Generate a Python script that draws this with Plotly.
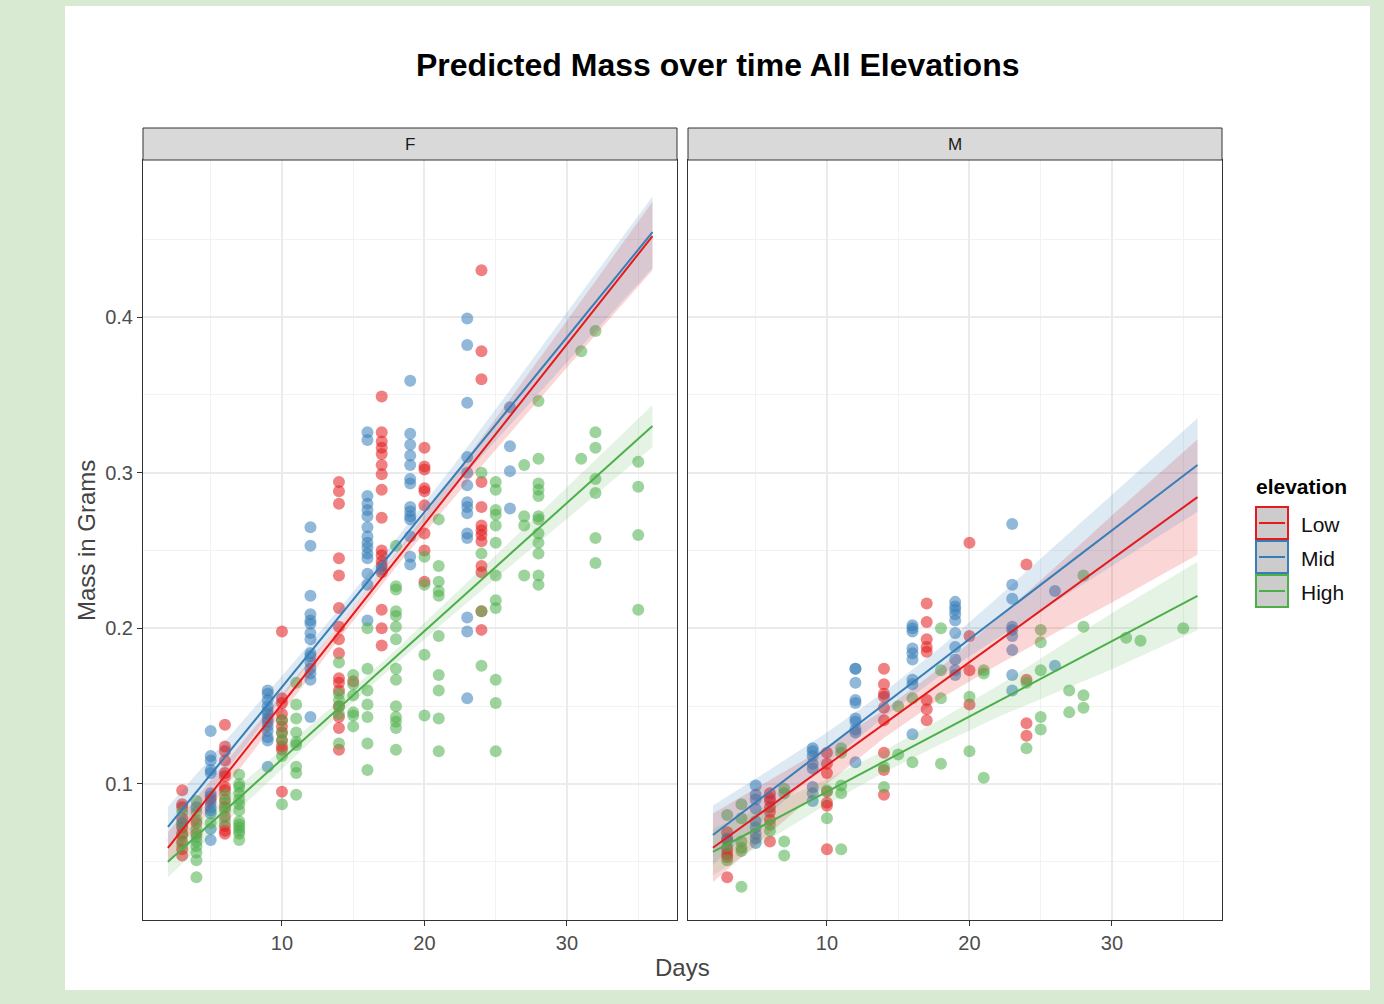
import plotly.graph_objects as go

# ---------------- data ----------------
# Facet F
F_low_days = [3,3,3,3,3,3,3,3,3, 4,4, 5,
              6,6,6,6,6,6,6,6,6,6,6,6,6,6,
              10,10,10,10,10,10,10,10,10,10,10,
              14,14,14,14,14,14,14,14,14,14,14,14,14,14,14,14,
              15,
              17,17,17,17,17,17,17,17,17,17,17,17,17,17,17,17,17,
              20,20,20,20,20,20,20,20,20,
              24,24,24,24,24,24,24,24,24,24,24,24,24]
F_low_mass = [0.096,0.087,0.085,0.078,0.072,0.068,0.063,0.058,0.054, 0.075,0.068, 0.090,
              0.138,0.124,0.121,0.115,0.107,0.105,0.098,0.096,0.090,0.085,0.079,0.073,0.070,0.068,
              0.198,0.155,0.152,0.145,0.141,0.137,0.133,0.128,0.124,0.122,0.095,
              0.294,0.288,0.280,0.245,0.234,0.213,0.201,0.193,0.184,0.168,0.165,0.160,0.150,0.143,0.136,0.122,
              0.166,
              0.349,0.326,0.320,0.316,0.312,0.305,0.299,0.289,0.271,0.250,0.247,0.243,0.240,0.236,0.212,0.200,0.189,
              0.316,0.304,0.302,0.290,0.288,0.279,0.261,0.250,0.230,
              0.430,0.378,0.360,0.294,0.278,0.266,0.263,0.260,0.256,0.240,0.236,0.211,0.199]

F_mid_days = [3, 4,
              5,5,5,5,5,5,5,5,5,5,5,5,5,
              9,9,9,9,9,9,9,9,9,9,9,9,9,
              12,12,12,12,12,12,12,12,12,12,12,12,12,12,12,
              16,16,16,16,16,16,16,16,16,16,16,16,16,16,16,
              17,
              19,19,19,19,19,19,19,19,19,19,19,19,19,19,
              23,23,23,23,23,23,23,23,23,23,23,23,23,23,
              26,26,26,26]
F_mid_mass = [0.075, 0.085,
              0.134,0.118,0.115,0.109,0.107,0.094,0.092,0.088,0.085,0.083,0.081,0.071,0.064,
              0.160,0.158,0.154,0.150,0.147,0.145,0.142,0.140,0.137,0.134,0.130,0.128,0.111,
              0.265,0.253,0.221,0.209,0.205,0.203,0.197,0.193,0.184,0.182,0.178,0.174,0.171,0.167,0.143,
              0.326,0.321,0.285,0.280,0.276,0.272,0.265,0.259,0.255,0.252,0.248,0.245,0.235,0.228,0.205,
              0.238,
              0.359,0.325,0.318,0.311,0.305,0.296,0.293,0.278,0.275,0.272,0.270,0.259,0.246,0.241,
              0.399,0.382,0.345,0.310,0.300,0.292,0.281,0.278,0.274,0.261,0.258,0.207,0.198,0.155,
              0.342,0.317,0.301,0.277]

F_high_days = [3,3,3,3,
               4,4,4,4,4,4,4,4,4,4,
               5,
               6,6,6,6,
               7,7,7,7,7,7,7,7,7,7,7,7,7,
               10,10,10,10,10,
               11,11,11,11,11,11,11,11,11,
               14,14,14,14,14,14,
               15,15,15,15,15,15,
               16,16,16,16,16,16,16,
               18,18,18,18,18,18,18,18,18,18,18,18,18,18,
               20,20,20,20,
               21,21,21,21,21,21,21,21,21,21,
               24,24,24,24,
               25,25,25,25,25,25,25,25,25,25,25,25,
               27,27,27,27,
               28,28,28,28,28,28,28,28,28,28,28,28,
               31,31,
               32,32,32,32,32,32,32,
               35,35,35,35]
F_high_mass = [0.082,0.074,0.067,0.061,
               0.089,0.082,0.077,0.071,0.066,0.063,0.060,0.056,0.051,0.040,
               0.075,
               0.093,0.088,0.083,0.076,
               0.106,0.100,0.098,0.094,0.090,0.087,0.083,0.076,0.074,0.072,0.070,0.068,0.064,
               0.141,0.133,0.128,0.118,0.087,
               0.165,0.151,0.142,0.133,0.127,0.125,0.111,0.107,0.093,
               0.178,0.158,0.154,0.150,0.145,0.126,
               0.170,0.164,0.157,0.146,0.144,0.137,
               0.200,0.174,0.160,0.151,0.143,0.126,0.109,
               0.253,0.227,0.225,0.211,0.208,0.201,0.193,0.174,0.167,0.150,0.143,0.140,0.136,0.122,
               0.246,0.228,0.183,0.144,
               0.270,0.240,0.230,0.224,0.221,0.195,0.170,0.160,0.142,0.121,
               0.300,0.248,0.211,0.176,
               0.294,0.289,0.276,0.273,0.266,0.255,0.234,0.218,0.213,0.167,0.152,0.121,
               0.305,0.272,0.266,0.234,
               0.346,0.309,0.293,0.289,0.285,0.272,0.270,0.261,0.255,0.248,0.234,0.228,
               0.378,0.309,
               0.391,0.326,0.316,0.296,0.287,0.258,0.242,
               0.307,0.291,0.260,0.212]

# Facet M
M_low_days = [3,3,3,3,3,3,
              6,6,6,6,6,6,6,
              10,10,10,10,10,10,10,
              14,14,14,14,14,14,14,14,14,
              17,17,17,17,17,17,17,17,
              20,20,20,20,
              24,24,24,24]
M_low_mass = [0.069,0.064,0.058,0.055,0.053,0.040,
              0.094,0.091,0.089,0.085,0.082,0.077,0.063,
              0.120,0.113,0.107,0.095,0.088,0.086,0.058,
              0.174,0.164,0.158,0.156,0.149,0.141,0.120,0.109,0.093,
              0.216,0.204,0.193,0.188,0.185,0.154,0.148,0.141,
              0.255,0.195,0.173,0.151,
              0.241,0.167,0.139,0.131]

M_mid_days = [3,
              5,5,5,5,5,5,5,5,5,
              9,9,9,9,9,9,9,9,
              12,12,12,12,12,12,12,12,12,12,
              16,16,16,16,16,16,16,16,16,
              19,19,19,19,19,19,19,19,19,19,
              23,23,23,23,23,23,23,23,23,
              26,26]
M_mid_mass = [0.065,
              0.099,0.093,0.090,0.084,0.076,0.072,0.068,0.065,0.062,
              0.123,0.121,0.118,0.113,0.110,0.098,0.094,0.089,
              0.174,0.174,0.165,0.154,0.152,0.142,0.140,0.135,0.133,0.114,
              0.202,0.200,0.198,0.187,0.184,0.180,0.167,0.164,0.132,
              0.217,0.214,0.212,0.209,0.205,0.197,0.188,0.180,0.173,0.170,
              0.267,0.228,0.219,0.201,0.199,0.195,0.186,0.170,0.160,
              0.224,0.176]

M_high_days = [3,3,3,
               4,4,4,4,4,4,
               6,6,
               7,7,7,7,
               10,10,
               11,11,11,11,11,
               14,14,
               15,15,
               16,16,
               18,18,18,18,
               20,20,
               21,21,21,
               24,24,
               25,25,25,25,25,
               27,27,
               28,28,28,28,
               31, 32, 35]
M_high_mass = [0.080,0.060,0.051,
               0.087,0.078,0.063,0.059,0.057,0.034,
               0.074,0.070,
               0.097,0.094,0.063,0.054,
               0.096,0.078,
               0.123,0.120,0.099,0.094,0.058,
               0.111,0.098,
               0.150,0.119,
               0.155,0.114,
               0.200,0.173,0.155,0.113,
               0.156,0.121,
               0.173,0.171,0.104,
               0.165,0.123,
               0.199,0.191,0.173,0.143,0.135,
               0.160,0.146,
               0.234,0.201,0.157,0.149,
               0.194, 0.192, 0.200]

# Fitted lines (value at day 2 and day 36) and confidence half-widths at knots
fit_days = [2, 36]
F_low_fit = [0.0589, 0.452]
F_mid_fit = [0.0724, 0.4545]
F_high_fit = [0.050, 0.330]
M_low_fit = [0.059, 0.2843]
M_mid_fit = [0.0672, 0.3049]
M_high_fit = [0.0563, 0.2208]

band_days = [2, 6, 10, 14, 18, 22, 26, 30, 36]
F_low_hw = [0.010, 0.008, 0.006, 0.0045, 0.0045, 0.007, 0.011, 0.015, 0.022]
F_mid_hw = [0.013, 0.010, 0.007, 0.005, 0.005, 0.007, 0.011, 0.016, 0.023]
F_high_hw = [0.010, 0.008, 0.006, 0.0045, 0.0045, 0.006, 0.008, 0.010, 0.0135]
M_low_hw = [0.022, 0.017, 0.012, 0.009, 0.010, 0.015, 0.021, 0.028, 0.037]
M_mid_hw = [0.019, 0.014, 0.010, 0.008, 0.009, 0.013, 0.018, 0.023, 0.030]
M_high_hw = [0.015, 0.011, 0.008, 0.007, 0.008, 0.010, 0.014, 0.018, 0.022]

elevations = ["Low", "Mid", "High"]
facets = ["F", "M"]
x_ticks = [10, 20, 30]
x_minor = [5, 15, 25, 35]
y_ticks = [0.1, 0.2, 0.3, 0.4]
y_minor = [0.05, 0.15, 0.25, 0.35, 0.45]

# ---------------- styling ----------------
W, H = 1384, 1004
COL = {"Low": "#E41A1C", "Mid": "#377EB8", "High": "#4DAF4A"}
FILL = {"Low": "rgba(228,26,28,0.18)", "Mid": "rgba(55,126,184,0.17)", "High": "rgba(77,175,74,0.15)"}
FONT = "Liberation Sans, Arial, sans-serif"


def px(x):
    return x / W


def py(y):
    return 1 - y / H


points = {
    ("F", "Low"): (F_low_days, F_low_mass), ("F", "Mid"): (F_mid_days, F_mid_mass),
    ("F", "High"): (F_high_days, F_high_mass),
    ("M", "Low"): (M_low_days, M_low_mass), ("M", "Mid"): (M_mid_days, M_mid_mass),
    ("M", "High"): (M_high_days, M_high_mass),
}
fits = {("F", "Low"): F_low_fit, ("F", "Mid"): F_mid_fit, ("F", "High"): F_high_fit,
        ("M", "Low"): M_low_fit, ("M", "Mid"): M_mid_fit, ("M", "High"): M_high_fit}
hws = {("F", "Low"): F_low_hw, ("F", "Mid"): F_mid_hw, ("F", "High"): F_high_hw,
       ("M", "Low"): M_low_hw, ("M", "Mid"): M_mid_hw, ("M", "High"): M_high_hw}
axes = {"F": ("x", "y"), "M": ("x2", "y2")}

fig = go.Figure()

# points
for f in facets:
    xa, ya = axes[f]
    for e in elevations:
        d, m = points[(f, e)]
        fig.add_trace(go.Scatter(x=d, y=m, mode="markers", xaxis=xa, yaxis=ya,
                                 marker=dict(size=12, color=COL[e], opacity=0.55, line=dict(width=0)),
                                 name=e, showlegend=False, hoverinfo="skip"))

# ribbons + lines
for f in facets:
    xa, ya = axes[f]
    for e in elevations:
        y0, y1 = fits[(f, e)]
        x0, x1 = fit_days
        centre = [y0 + (y1 - y0) * (b - x0) / (x1 - x0) for b in band_days]
        up = [c + h for c, h in zip(centre, hws[(f, e)])]
        lo = [c - h for c, h in zip(centre, hws[(f, e)])]
        fig.add_trace(go.Scatter(x=band_days + band_days[::-1], y=up + lo[::-1], xaxis=xa, yaxis=ya,
                                 fill="toself", fillcolor=FILL[e], line=dict(width=0),
                                 mode="lines", showlegend=False, hoverinfo="skip"))
for f in facets:
    xa, ya = axes[f]
    for e in elevations:
        fig.add_trace(go.Scatter(x=fit_days, y=fits[(f, e)], xaxis=xa, yaxis=ya, mode="lines",
                                 line=dict(color=COL[e], width=2), showlegend=False, hoverinfo="skip"))

xa_common = dict(range=[0.25, 37.72], tickmode="array", tickvals=x_ticks, ticks="outside", ticklen=5,
                 tickcolor="#333333", tickwidth=1, showline=True, mirror=True, linecolor="#333333", linewidth=1,
                 showgrid=True, gridcolor="#ebebeb", gridwidth=1.5, zeroline=False,
                 tickfont=dict(family=FONT, size=20, color="#4d4d4d"),
                 minor=dict(tickvals=x_minor, showgrid=True, gridcolor="#f2f2f2", gridwidth=1, ticks=""))
ya_common = dict(range=[0.0126, 0.5009], tickmode="array", tickvals=y_ticks, ticks="outside", ticklen=5,
                 tickcolor="#333333", tickwidth=1, showline=True, mirror=True, linecolor="#333333", linewidth=1,
                 showgrid=True, gridcolor="#ebebeb", gridwidth=1.5, zeroline=False,
                 tickfont=dict(family=FONT, size=20, color="#4d4d4d"),
                 minor=dict(tickvals=y_minor, showgrid=True, gridcolor="#f2f2f2", gridwidth=1, ticks=""),
                 domain=[py(920), py(160)])

fig.update_layout(
    width=W, height=H, margin=dict(l=0, r=0, t=0, b=0),
    paper_bgcolor="#d9ead3", plot_bgcolor="white",
    showlegend=False,
    xaxis=dict(domain=[px(143), px(677)], anchor="y", **xa_common),
    xaxis2=dict(domain=[px(688), px(1222)], anchor="y2", **xa_common),
    yaxis=dict(anchor="x", **ya_common),
    yaxis2=dict(anchor="x2", matches="y", showticklabels=False,
                **{k: v for k, v in ya_common.items() if k not in ("ticks",)}, ticks=""),
)

shapes = [dict(type="rect", xref="paper", yref="paper", x0=px(65), x1=px(1370), y0=py(990), y1=py(6),
               fillcolor="white", line=dict(width=0), layer="below")]
annotations = []
# strips
for f, (l, r) in zip(facets, [(143, 677), (688, 1222)]):
    shapes.append(dict(type="rect", xref="paper", yref="paper", x0=px(l), x1=px(r), y0=py(160), y1=py(128),
                       fillcolor="#d9d9d9", line=dict(color="#333333", width=1)))
    annotations.append(dict(text=f, xref="paper", yref="paper", x=px((l + r) / 2), y=py(145),
                            showarrow=False, xanchor="center", yanchor="middle",
                            font=dict(family=FONT, size=17, color="#1a1a1a")))

# title and axis titles
annotations.append(dict(text="<b>Predicted Mass over time All Elevations</b>", xref="paper", yref="paper",
                        x=px(717), y=py(65), showarrow=False, xanchor="center", yanchor="middle",
                        font=dict(family=FONT, size=32, color="#000000")))
annotations.append(dict(text="Days", xref="paper", yref="paper", x=px(682.5), y=py(967), showarrow=False,
                        xanchor="center", yanchor="middle", font=dict(family=FONT, size=24, color="#444444")))
annotations.append(dict(text="Mass in Grams", xref="paper", yref="paper", x=px(86), y=py(541), showarrow=False,
                        textangle=-90, xanchor="center", yanchor="middle",
                        font=dict(family=FONT, size=24, color="#444444")))

# legend (drawn)
annotations.append(dict(text="<b>elevation</b>", xref="paper", yref="paper", x=px(1254), y=py(486),
                        showarrow=False, xanchor="left", yanchor="middle",
                        font=dict(family=FONT, size=21, color="#000000")))
for i, e in enumerate(elevations):
    top = 507 + 34 * i
    shapes.append(dict(type="rect", xref="paper", yref="paper", x0=px(1256), x1=px(1288),
                       y0=py(top + 32), y1=py(top), fillcolor="#cccccc", line=dict(color=COL[e], width=2)))
    shapes.append(dict(type="line", xref="paper", yref="paper", x0=px(1259), x1=px(1285),
                       y0=py(top + 16), y1=py(top + 16), line=dict(color=COL[e], width=2)))
    annotations.append(dict(text=e, xref="paper", yref="paper", x=px(1299), y=py(top + 17), showarrow=False,
                            xanchor="left", yanchor="middle", font=dict(family=FONT, size=21, color="#111111")))

fig.update_layout(shapes=shapes, annotations=annotations)
fig.write_html("out.html")
